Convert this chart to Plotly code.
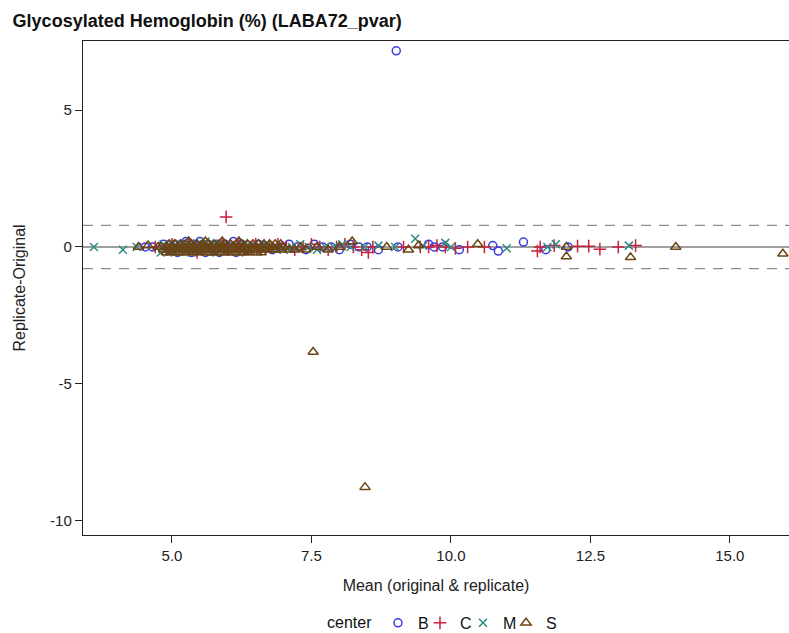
import plotly.graph_objects as go

# ---- data (x = mean of original & replicate, y = replicate - original) ----
B_pts = [(4.52, 0.0), (4.65, 0.0), (4.85, 0.1), (4.95, -0.1), (5.0, 0.0), (5.05, 0.1), (5.1, -0.2),
         (5.15, 0.0), (5.2, 0.1), (5.25, 0.2), (5.3, -0.1), (5.3, 0.0), (5.35, -0.2), (5.4, 0.1),
         (5.45, 0.0), (5.5, -0.1), (5.5, 0.2), (5.55, 0.0), (5.6, -0.2), (5.65, 0.1), (5.7, 0.0),
         (5.75, -0.1), (5.8, 0.1), (5.85, -0.2), (5.9, 0.0), (5.95, 0.1), (6.0, -0.1), (6.05, 0.0),
         (6.1, 0.2), (6.15, -0.2), (6.2, 0.0), (6.25, 0.1), (6.35, -0.1), (6.45, 0.0), (6.55, 0.1),
         (6.65, 0.0), (6.8, -0.1), (6.95, 0.0), (7.1, 0.1), (7.25, 0.0), (7.4, -0.1), (7.55, 0.1),
         (7.7, 0.0), (7.85, 0.0), (8.0, -0.1), (8.2, 0.1), (8.35, 0.0), (8.5, 0.0), (8.7, -0.1),
         (9.02, 7.17), (9.05, 0.0), (9.6, 0.1), (9.7, 0.0), (9.85, 0.0), (10.15, -0.1), (10.75, 0.05),
         (10.85, -0.15), (11.3, 0.18), (11.7, -0.1), (12.1, 0.0)]

C_pts = [(4.7, 0.0), (4.9, -0.1), (5.0, 0.1), (5.1, 0.0), (5.2, -0.1), (5.3, 0.1), (5.4, 0.0),
         (5.45, -0.2), (5.55, 0.1), (5.6, 0.0), (5.7, -0.1), (5.8, 0.0), (5.9, 0.1), (5.97, 1.1),
         (6.0, -0.1), (6.1, 0.0), (6.2, 0.1), (6.3, -0.1), (6.4, 0.0), (6.5, 0.1), (6.6, -0.1),
         (6.75, 0.0), (6.9, 0.1), (7.05, 0.0), (7.2, -0.1), (7.35, 0.0), (7.5, 0.1), (7.65, 0.0),
         (7.8, -0.1), (7.95, 0.0), (8.1, 0.1), (8.25, 0.0), (8.4, -0.1), (8.52, -0.2), (8.6, 0.0),
         (9.15, 0.0), (9.45, 0.0), (9.6, 0.0), (9.75, 0.05), (9.9, 0.0), (10.08, -0.05), (10.3, 0.0),
         (10.6, 0.0), (11.55, -0.15), (11.6, 0.0), (11.85, 0.05), (12.27, 0.03), (12.47, 0.03),
         (12.67, -0.08), (13.0, 0.0), (13.31, 0.05)]

M_pts = [(3.6, 0.0), (4.12, -0.1), (4.37, 0.0), (4.8, -0.2), (4.85, 0.1), (4.9, 0.0), (4.95, -0.1),
         (5.0, 0.1), (5.05, -0.2), (5.1, 0.0), (5.15, 0.1), (5.2, -0.1), (5.25, 0.0), (5.3, 0.1),
         (5.35, -0.2), (5.4, 0.0), (5.45, 0.1), (5.5, -0.1), (5.55, 0.0), (5.6, 0.2), (5.65, -0.1),
         (5.7, 0.0), (5.75, 0.1), (5.8, -0.2), (5.85, 0.0), (5.9, 0.1), (6.0, -0.1), (6.1, 0.0),
         (6.2, -0.2), (6.3, 0.1), (6.4, 0.0), (6.5, -0.1), (6.6, 0.0), (6.7, 0.1), (6.85, 0.0),
         (7.0, -0.1), (7.15, 0.0), (7.3, 0.1), (7.45, 0.0), (7.6, -0.1), (7.75, 0.0), (7.9, 0.0),
         (8.05, 0.1), (8.2, 0.0), (8.45, 0.0), (8.7, 0.05), (9.0, 0.0), (9.36, 0.3), (9.5, 0.05),
         (9.9, 0.15), (10.0, 0.0), (11.0, -0.05), (11.73, 0.0), (11.88, 0.1), (13.19, 0.05)]

S_pts = [(4.4, 0.0), (4.57, 0.05), (4.75, 0.0),
         # dense band, row -0.2
         (4.9, -0.2), (5.0, -0.2), (5.1, -0.2), (5.2, -0.2), (5.3, -0.2), (5.4, -0.2), (5.5, -0.2),
         (5.6, -0.2), (5.7, -0.2), (5.8, -0.2), (5.9, -0.2), (6.0, -0.2), (6.1, -0.2), (6.2, -0.2),
         (6.3, -0.2), (6.4, -0.2), (6.5, -0.2), (6.6, -0.2),
         # row -0.1
         (4.85, -0.1), (4.95, -0.1), (5.05, -0.1), (5.15, -0.1), (5.25, -0.1), (5.35, -0.1),
         (5.45, -0.1), (5.55, -0.1), (5.65, -0.1), (5.75, -0.1), (5.85, -0.1), (5.95, -0.1),
         (6.05, -0.1), (6.15, -0.1), (6.25, -0.1), (6.35, -0.1), (6.45, -0.1), (6.55, -0.1),
         (6.65, -0.1), (6.75, -0.1), (6.85, -0.1), (6.95, -0.1),
         # row 0.0
         (4.8, 0.0), (4.9, 0.0), (5.0, 0.0), (5.1, 0.0), (5.2, 0.0), (5.3, 0.0), (5.4, 0.0),
         (5.5, 0.0), (5.6, 0.0), (5.7, 0.0), (5.8, 0.0), (5.9, 0.0), (6.0, 0.0), (6.1, 0.0),
         (6.2, 0.0), (6.3, 0.0), (6.4, 0.0), (6.5, 0.0), (6.6, 0.0), (6.7, 0.0), (6.8, 0.0),
         (6.9, 0.0), (7.0, 0.0),
         # row 0.1
         (4.95, 0.1), (5.05, 0.1), (5.15, 0.1), (5.25, 0.1), (5.35, 0.1), (5.45, 0.1), (5.55, 0.1),
         (5.65, 0.1), (5.75, 0.1), (5.85, 0.1), (5.95, 0.1), (6.05, 0.1), (6.15, 0.1), (6.25, 0.1),
         (6.35, 0.1), (6.45, 0.1), (6.55, 0.1), (6.65, 0.1), (6.75, 0.1), (6.85, 0.1), (6.95, 0.1),
         # row 0.2
         (5.3, 0.2), (5.6, 0.2), (5.9, 0.2), (6.2, 0.2),
         # sparser tail
         (7.1, -0.1), (7.2, -0.1), (7.3, 0.0), (7.4, -0.1), (7.53, -3.84), (7.6, 0.0), (7.8, -0.1),
         (8.0, 0.0), (8.23, 0.2), (8.46, -8.78), (8.85, 0.0), (9.24, -0.1), (9.42, 0.05),
         (10.48, 0.1), (12.07, 0.0), (12.07, -0.35), (13.22, -0.38), (14.03, 0.0), (15.95, -0.25)]

LIMIT = 0.79
X_RANGE = [3.405, 16.06]
Y_RANGE = [-10.53, 7.53]
X_TICKS = [5.0, 7.5, 10.0, 12.5, 15.0]
Y_TICKS = [-10, -5, 0, 5]

series = [
    ("B", B_pts, "circle-open", "#3A3AE0", 8),
    ("C", C_pts, "cross-thin-open", "#C8203C", 9),
    ("M", M_pts, "x-thin-open", "#2E8B84", 8),
    ("S", S_pts, "triangle-up-open", "#6B4515", 9),
]

FONT = "Liberation Sans, Arial, sans-serif"
AX = "#222222"
LEG_Y = -0.178
# one small legend box per group so entries sit close together (as in the original)
LEG_X = [0.4178, 0.4773, 0.5382, 0.5992]
LEG_NAMES = ["legend", "legend2", "legend3", "legend4"]

fig = go.Figure()
for (name, pts, sym, col, sz), lg in zip(series, LEG_NAMES):
    fig.add_trace(go.Scatter(
        x=[p[0] for p in pts], y=[p[1] for p in pts], mode="markers", name=name, legend=lg,
        marker=dict(symbol=sym, size=sz, color=col, line=dict(color=col, width=1.5)),
    ))

fig.add_hline(y=0, line=dict(color="#7F7F7F", width=1.4), layer="below")
fig.add_hline(y=LIMIT, line=dict(color="#8C8C8C", width=1.3, dash="10px,8px"), layer="below")
fig.add_hline(y=-LIMIT, line=dict(color="#8C8C8C", width=1.3, dash="10px,8px"), layer="below")

legend_common = dict(orientation="h", xanchor="left", y=LEG_Y, yanchor="middle",
                     font=dict(size=16, color="#111111"), itemwidth=30, bgcolor="rgba(0,0,0,0)")
legends = {lg: dict(x=lx, **legend_common) for lg, lx in zip(LEG_NAMES, LEG_X)}

fig.add_annotation(text="center", xref="paper", yref="paper", x=0.3428, y=LEG_Y,
                   xanchor="left", yanchor="middle", showarrow=False,
                   font=dict(size=16, color="#111111"))

fig.update_layout(
    width=789, height=633,
    margin=dict(l=83, r=0, t=41, b=98, autoexpand=False),
    paper_bgcolor="white", plot_bgcolor="white",
    font=dict(family=FONT, size=15, color="#222222"),
    title=dict(text="<b>Glycosylated Hemoglobin (%) (LABA72_pvar)</b>", x=0.016, xanchor="left",
               y=0.968, yanchor="middle", font=dict(size=18, color="#111111")),
    showlegend=True,
    xaxis=dict(range=X_RANGE, tickvals=X_TICKS, ticktext=[f"{v:.1f}" for v in X_TICKS],
               showgrid=False, zeroline=False, showline=True, linecolor=AX, linewidth=1.4,
               mirror=True, ticks="outside", ticklen=7, tickcolor=AX,
               tickfont=dict(size=15),
               title=dict(text="Mean (original & replicate)", font=dict(size=16), standoff=16)),
    yaxis=dict(range=Y_RANGE, tickvals=Y_TICKS, ticktext=[str(v) for v in Y_TICKS],
               showgrid=False, zeroline=False, showline=True, linecolor=AX, linewidth=1.4,
               mirror=False, ticks="outside", ticklen=7, tickcolor=AX,
               tickfont=dict(size=15),
               title=dict(text="Replicate-Original", font=dict(size=16), standoff=20)),
    **legends,
)

fig.write_html("out.html")
